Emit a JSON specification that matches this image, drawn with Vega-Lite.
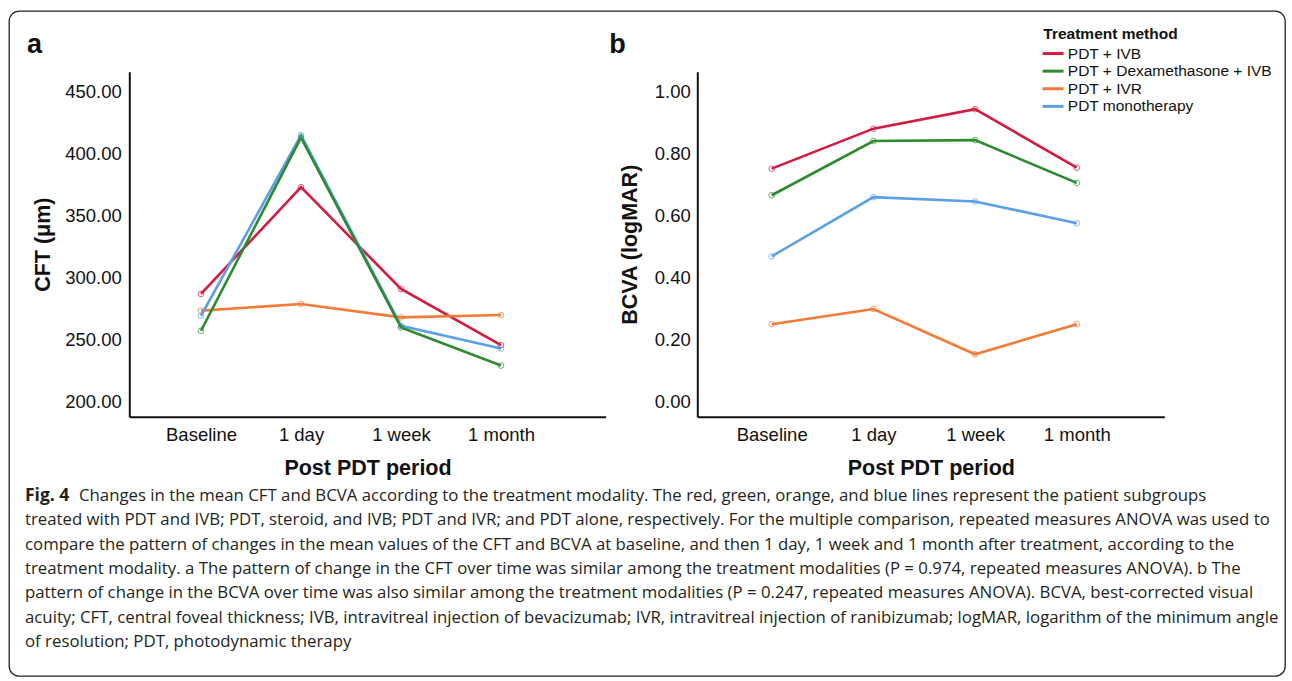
{
  "$schema": "https://vega.github.io/schema/vega-lite/v6.json",
  "width": 1276,
  "height": 665,
  "autosize": {"type": "none"},
  "padding": {"left": 9, "top": 11, "right": 7, "bottom": 5},
  "background": "white",
  "config": {
    "view": {"stroke": "#222222", "strokeWidth": 1.3, "cornerRadius": 10},
    "font": "Liberation Sans",
    "axis": {
      "grid": false, "ticks": false, "tickSize": 0,
      "domainColor": "#111111", "domainWidth": 2,
      "labelFont": "Liberation Sans", "labelFontSize": 18.5, "labelColor": "#111111",
      "titleFont": "Liberation Sans", "titleFontSize": 21.5, "titleFontWeight": "bold", "titleColor": "#111111"
    }
  },
  "datasets": {
    "means": [
      {"group": "PDT + IVB", "period": "Baseline", "cft": 286.9, "bcva": 0.752},
      {"group": "PDT + IVB", "period": "1 day", "cft": 373.1, "bcva": 0.881},
      {"group": "PDT + IVB", "period": "1 week", "cft": 290.9, "bcva": 0.944},
      {"group": "PDT + IVB", "period": "1 month", "cft": 245.6, "bcva": 0.755},
      {"group": "PDT + IVR", "period": "Baseline", "cft": 273.4, "bcva": 0.250},
      {"group": "PDT + IVR", "period": "1 day", "cft": 278.8, "bcva": 0.299},
      {"group": "PDT + IVR", "period": "1 week", "cft": 268.0, "bcva": 0.153},
      {"group": "PDT + IVR", "period": "1 month", "cft": 269.9, "bcva": 0.250},
      {"group": "PDT monotherapy", "period": "Baseline", "cft": 269.3, "bcva": 0.469},
      {"group": "PDT monotherapy", "period": "1 day", "cft": 415.0, "bcva": 0.660},
      {"group": "PDT monotherapy", "period": "1 week", "cft": 261.2, "bcva": 0.646},
      {"group": "PDT monotherapy", "period": "1 month", "cft": 242.9, "bcva": 0.576},
      {"group": "PDT + Dexamethasone + IVB", "period": "Baseline", "cft": 257.2, "bcva": 0.666},
      {"group": "PDT + Dexamethasone + IVB", "period": "1 day", "cft": 413.0, "bcva": 0.841},
      {"group": "PDT + Dexamethasone + IVB", "period": "1 week", "cft": 259.9, "bcva": 0.844},
      {"group": "PDT + Dexamethasone + IVB", "period": "1 month", "cft": 229.1, "bcva": 0.706}
    ],
    "caption": [
      {"line": 1, "part": "lead", "text": "Fig. 4"},
      {"line": 1, "part": "first", "text": "Changes in the mean CFT and BCVA according to the treatment modality. The red, green, orange, and blue lines represent the patient subgroups"},
      {"line": 2, "part": "body", "text": "treated with PDT and IVB; PDT, steroid, and IVB; PDT and IVR; and PDT alone, respectively. For the multiple comparison, repeated measures ANOVA was used to"},
      {"line": 3, "part": "body", "text": "compare the pattern of changes in the mean values of the CFT and BCVA at baseline, and then 1 day, 1 week and 1 month after treatment, according to the"},
      {"line": 4, "part": "body", "text": "treatment modality. a The pattern of change in the CFT over time was similar among the treatment modalities (P = 0.974, repeated measures ANOVA). b The"},
      {"line": 5, "part": "body", "text": "pattern of change in the BCVA over time was also similar among the treatment modalities (P = 0.247, repeated measures ANOVA). BCVA, best-corrected visual"},
      {"line": 6, "part": "body", "text": "acuity; CFT, central foveal thickness; IVB, intravitreal injection of bevacizumab; IVR, intravitreal injection of ranibizumab; logMAR, logarithm of the minimum angle"},
      {"line": 7, "part": "body", "text": "of resolution; PDT, photodynamic therapy"}
    ],
    "panels": [{"panel": "a"}, {"panel": "b"}]
  },
  "layer": [
    {
      "data": {"name": "means"},
      "encoding": {
        "x": {
          "field": "period", "type": "ordinal",
          "scale": {"type": "point", "domain": ["Baseline", "1 day", "1 week", "1 month"], "range": [120.3, 596.7], "padding": 0.882, "align": 0.4065},
          "axis": {"orient": "bottom", "offset": -259.3, "title": "Post PDT period", "labelAngle": 0, "labelPadding": 9, "titlePadding": 13}
        },
        "y": {
          "field": "cft", "type": "quantitative",
          "scale": {"domain": [187.86, 466.18], "range": [405.7, 60.7], "nice": false, "zero": false},
          "axis": {"orient": "left", "offset": -120.3, "title": "CFT (μm)", "values": [200, 250, 300, 350, 400, 450], "format": ".2f", "labelPadding": 8, "titlePadding": 10}
        },
        "color": {
          "field": "group", "type": "nominal",
          "scale": {"domain": ["PDT + IVB", "PDT + Dexamethasone + IVB", "PDT + IVR", "PDT monotherapy"], "range": ["#d41a40", "#2e8a2e", "#f47a38", "#5b9fe6"]},
          "legend": {
            "orient": "none", "legendX": 1034.3, "legendY": 16.3, "padding": 0,
            "title": "Treatment method", "titleFont": "Liberation Sans", "titleFontSize": 15.5, "titleFontWeight": "bold", "titleColor": "#111111", "titlePadding": 3,
            "labelFont": "Liberation Sans", "labelFontSize": 15.5, "labelColor": "#111111", "labelOffset": 7, "labelLimit": 400,
            "symbolType": "M-2,0L2,0", "symbolSize": 110, "symbolStrokeWidth": 3, "symbolOpacity": 1, "symbolOffset": 2, "rowPadding": 0.6
          }
        }
      },
      "layer": [
        {"mark": {"type": "line", "strokeWidth": 2.6}},
        {"mark": {"type": "point", "filled": false, "size": 32, "strokeWidth": 1, "opacity": 0.7}}
      ]
    },
    {
      "data": {"name": "means"},
      "encoding": {
        "x": {
          "field": "period", "type": "ordinal",
          "scale": {"type": "point", "domain": ["Baseline", "1 day", "1 week", "1 month"], "range": [688.3, 1155.3], "padding": 0.796, "align": 0.4595},
          "axis": {"orient": "bottom", "offset": -259.3, "title": "Post PDT period", "labelAngle": 0, "labelPadding": 9, "titlePadding": 13}
        },
        "y": {
          "field": "bcva", "type": "quantitative",
          "scale": {"domain": [-0.0485, 1.0647], "range": [405.7, 60.7], "nice": false, "zero": false},
          "axis": {"orient": "left", "offset": -688.3, "title": "BCVA (logMAR)", "values": [0, 0.2, 0.4, 0.6, 0.8, 1.0], "format": ".2f", "labelPadding": 7, "titlePadding": 13}
        },
        "color": {
          "field": "group", "type": "nominal",
          "scale": {"domain": ["PDT + IVB", "PDT + Dexamethasone + IVB", "PDT + IVR", "PDT monotherapy"], "range": ["#d41a40", "#2e8a2e", "#f47a38", "#5b9fe6"]}
        }
      },
      "layer": [
        {"mark": {"type": "line", "strokeWidth": 2.6}},
        {"mark": {"type": "point", "filled": false, "size": 32, "strokeWidth": 1, "opacity": 0.7}}
      ]
    },
    {
      "data": {"name": "panels"},
      "mark": {"type": "text", "font": "Liberation Sans", "fontWeight": "bold", "fontSize": 27, "baseline": "alphabetic", "align": "center", "y": 42.3, "color": "#111111"},
      "encoding": {
        "text": {"field": "panel"},
        "x": {"field": "panel", "type": "nominal", "scale": {"type": "point", "domain": ["a", "b"], "range": [25.5, 608.5], "padding": 0}, "axis": null}
      }
    },
    {
      "data": {"name": "caption"},
      "transform": [{"filter": "datum.part === 'lead'"}],
      "mark": {"type": "text", "align": "left", "baseline": "middle", "font": "Open Sans", "fontWeight": "bold", "fontSize": 17.5, "color": "#231f20", "x": 16},
      "encoding": {
        "text": {"field": "text"},
        "y": {"field": "line", "type": "quantitative", "scale": {"domain": [1, 7], "range": [485, 630.8]}, "axis": null}
      }
    },
    {
      "data": {"name": "caption"},
      "transform": [{"filter": "datum.part === 'first'"}],
      "mark": {"type": "text", "align": "left", "baseline": "middle", "font": "Open Sans", "fontSize": 16.8, "color": "#231f20", "x": 70},
      "encoding": {
        "text": {"field": "text"},
        "y": {"field": "line", "type": "quantitative", "scale": {"domain": [1, 7], "range": [485, 630.8]}, "axis": null}
      }
    },
    {
      "data": {"name": "caption"},
      "transform": [{"filter": "datum.part === 'body'"}],
      "mark": {"type": "text", "align": "left", "baseline": "middle", "font": "Open Sans", "fontSize": 16.8, "color": "#231f20", "x": 16},
      "encoding": {
        "text": {"field": "text"},
        "y": {"field": "line", "type": "quantitative", "scale": {"domain": [1, 7], "range": [485, 630.8]}, "axis": null}
      }
    }
  ],
  "resolve": {
    "scale": {"x": "independent", "y": "independent"},
    "axis": {"x": "independent", "y": "independent"}
  }
}
